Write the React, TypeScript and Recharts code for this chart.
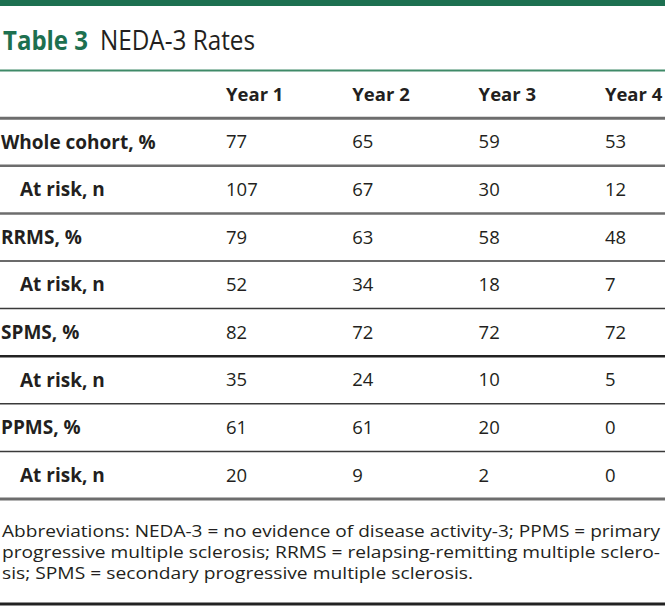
import { ScatterChart, Scatter, XAxis, YAxis, ReferenceLine } from 'recharts';

const years = ['Year 1', 'Year 2', 'Year 3', 'Year 4'];
const rowLabels = [
  'Whole cohort, %',
  'At risk, n',
  'RRMS, %',
  'At risk, n',
  'SPMS, %',
  'At risk, n',
  'PPMS, %',
  'At risk, n',
];
const year1 = [77, 107, 79, 52, 82, 35, 61, 20];
const year2 = [65, 67, 63, 34, 72, 24, 61, 9];
const year3 = [59, 30, 58, 18, 72, 10, 20, 2];
const year4 = [53, 12, 48, 7, 72, 5, 0, 0];
const columns = [year1, year2, year3, year4];

const footnoteLines = [
  'Abbreviations: NEDA-3 = no evidence of disease activity-3; PPMS = primary',
  'progressive multiple sclerosis; RRMS = relapsing-remitting multiple sclero-',
  'sis; SPMS = secondary progressive multiple sclerosis.',
];

const W = 665;
const H = 606;
const FONT = '"Open Sans", "Noto Sans", sans-serif';
const INK = '#231f20';
const GREEN = '#1d7050';
const CELL_SIZE = 18.5;

// table grid: left edge of first value column, column step, first row centre, row step
const colLeft = 226;
const colStep = 126.3;
const rowTop = 142;
const rowStep = 47.6;
const xDomain = [-colLeft / colStep, (W - colLeft) / colStep];
const yDomain = [-rowTop / rowStep, (H - rowTop) / rowStep];

// horizontal rules, in row units (between rows)
const rules = [
  { at: -1.5, stroke: '#3f8a68', width: 2 },
  { at: -0.5, stroke: '#6d6d6d', width: 3 },
  { at: 0.5, stroke: '#6d6d6d', width: 2.5 },
  { at: 1.5, stroke: '#6d6d6d', width: 2.5 },
  { at: 2.5, stroke: '#3a3a3a', width: 1.5 },
  { at: 3.5, stroke: '#3a3a3a', width: 1.5 },
  { at: 4.5, stroke: '#222222', width: 2.5 },
  { at: 5.5, stroke: '#3a3a3a', width: 1.5 },
  { at: 6.5, stroke: '#3a3a3a', width: 1.5 },
  { at: 7.5, stroke: '#6d6d6d', width: 3 },
];

const headerData = years.map((label, c) => ({ col: c, row: -1, text: label }));
const labelData = rowLabels.map((label, r) => ({ col: xDomain[0], row: r, text: label }));
const cellData = columns.flatMap((vals, c) =>
  vals.map((v, r) => ({ col: c, row: r, text: String(v) }))
);

const HeaderCell = (props: any) => (
  <text x={props.cx} y={props.cy} dy="0.35em" fontFamily={FONT} fontSize={CELL_SIZE} fontWeight={700} fill={INK}>
    {props.payload.text}
  </text>
);

const ValueCell = (props: any) => (
  <text x={props.cx} y={props.cy} dy="0.35em" fontFamily={FONT} fontSize={CELL_SIZE} fill={INK}>
    {props.payload.text}
  </text>
);

const LabelCell = (props: any) => {
  const text: string = props.payload.text;
  const indent = text.startsWith('At risk') ? 20 : 1;
  return (
    <text x={props.cx + indent} y={props.cy} dy="0.35em" fontFamily={FONT} fontSize={19} fontWeight={700} fill={INK}>
      {text}
    </text>
  );
};

export default function App() {
  return (
    <div style={{ position: 'relative', width: W, height: H, background: '#fff' }}>
      <style>{'body{margin:0}'}</style>
      <ScatterChart width={W} height={H} margin={{ top: 0, right: 0, bottom: 0, left: 0 }}>
        <XAxis type="number" dataKey="col" domain={xDomain} allowDataOverflow hide />
        <YAxis type="number" dataKey="row" domain={yDomain} allowDataOverflow reversed hide />
        {rules.map((r) => (
          <ReferenceLine key={r.at} y={r.at} stroke={r.stroke} strokeWidth={r.width} />
        ))}
        <Scatter data={headerData} shape={HeaderCell} isAnimationActive={false} />
        <Scatter data={labelData} shape={LabelCell} isAnimationActive={false} />
        <Scatter data={cellData} shape={ValueCell} isAnimationActive={false} />
      </ScatterChart>
      <svg width={W} height={H} style={{ position: 'absolute', left: 0, top: 0, pointerEvents: 'none' }}>
        <rect x={0} y={0} width={W} height={6} fill={GREEN} />
        <text x={3} y={50} fontFamily={FONT} fontSize={27} fontWeight={700} fill={GREEN} textLength={85} lengthAdjust="spacingAndGlyphs">
          Table 3
        </text>
        <text x={100} y={50} fontFamily={FONT} fontSize={27} fill={INK} textLength={155} lengthAdjust="spacingAndGlyphs">
          NEDA-3 Rates
        </text>
        {footnoteLines.map((line, i) => (
          <text
            key={i}
            x={2}
            y={537 + i * 21}
            fontFamily={FONT}
            fontSize={17}
            fill={INK}
            textLength={i < 2 ? 658 : 471}
            lengthAdjust="spacingAndGlyphs"
          >
            {line}
          </text>
        ))}
        <line x1={0} x2={W} y1={604} y2={604} stroke="#222222" strokeWidth={3} />
      </svg>
    </div>
  );
}
